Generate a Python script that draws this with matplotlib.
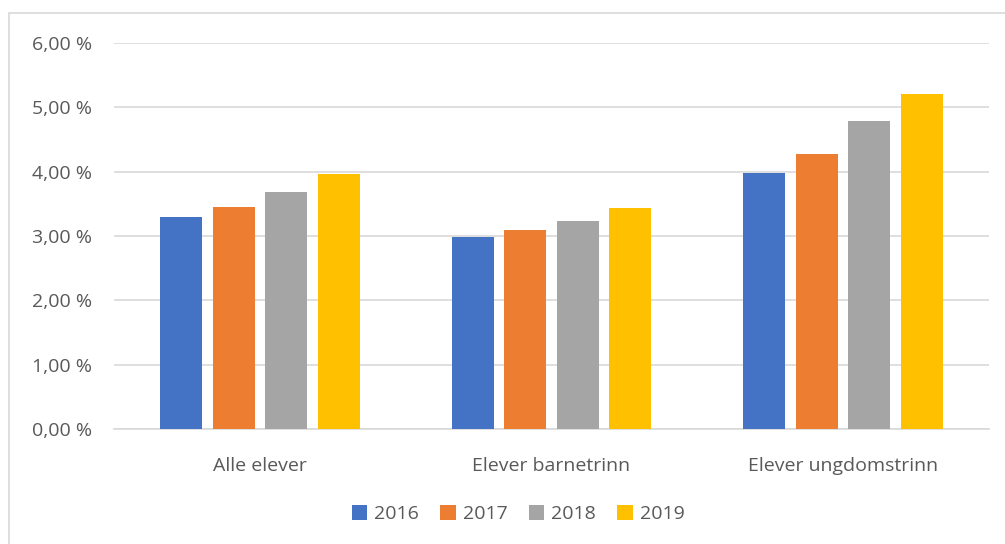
import numpy as np
import matplotlib.pyplot as plt
from matplotlib.patches import Rectangle
from matplotlib.ticker import FuncFormatter

categories = ['Alle elever', 'Elever barnetrinn', 'Elever ungdomstrinn']
years = ['2016', '2017', '2018', '2019']
v2016 = [3.29, 2.98, 3.98]
v2017 = [3.45, 3.09, 4.28]
v2018 = [3.68, 3.23, 4.79]
v2019 = [3.96, 3.43, 5.20]
colors = ['#4472C4', '#ED7D31', '#A5A5A5', '#FFC000']

plt.rcParams['font.family'] = ['Open Sans', 'DejaVu Sans']
txt = '#595959'
fs = 14

fig = plt.figure(figsize=(10.05, 5.44), dpi=100)
fig.patches.append(Rectangle((9 / 1005, -0.1), 1.1, (1 - 13 / 544) + 0.1,
                             transform=fig.transFigure, fill=False,
                             edgecolor='#D9D9D9', linewidth=1.2))
ax = fig.add_axes([114 / 1005, 1 - 429 / 544, (989 - 114) / 1005, (429 - 43) / 544])

x = np.arange(len(categories))
step = 0.18
width = 0.144
for i, (vals, yr) in enumerate(zip([v2016, v2017, v2018, v2019], years)):
    ax.bar(x + (i - 1.5) * step, vals, width, color=colors[i], label=yr, zorder=3)

ax.set_xlim(-0.5, 2.5)
ax.set_ylim(0, 6)
ax.set_yticks(np.arange(0, 7, 1))
ax.yaxis.set_major_formatter(FuncFormatter(lambda v, p: f'{v:.2f} %'.replace('.', ',')))
ax.set_xticks(x)
ax.set_xticklabels(categories)
ax.grid(axis='y', color='#D9D9D9', linewidth=1.2, zorder=0)
for s in ['top', 'right', 'left']:
    ax.spines[s].set_visible(False)
ax.spines['bottom'].set_color('#D9D9D9')
ax.spines['bottom'].set_linewidth(1.2)
ax.tick_params(length=0, colors=txt, labelsize=fs)
ax.tick_params(axis='x', pad=20)
ax.tick_params(axis='y', pad=16)

fig.legend(loc='center', bbox_to_anchor=(518 / 1005, 1 - 514 / 544), ncol=4,
           frameon=False, fontsize=fs, labelcolor=txt, handlelength=0.8,
           handleheight=0.8, handletextpad=0.35, columnspacing=1.1)

fig.savefig('out.png', dpi=100)
